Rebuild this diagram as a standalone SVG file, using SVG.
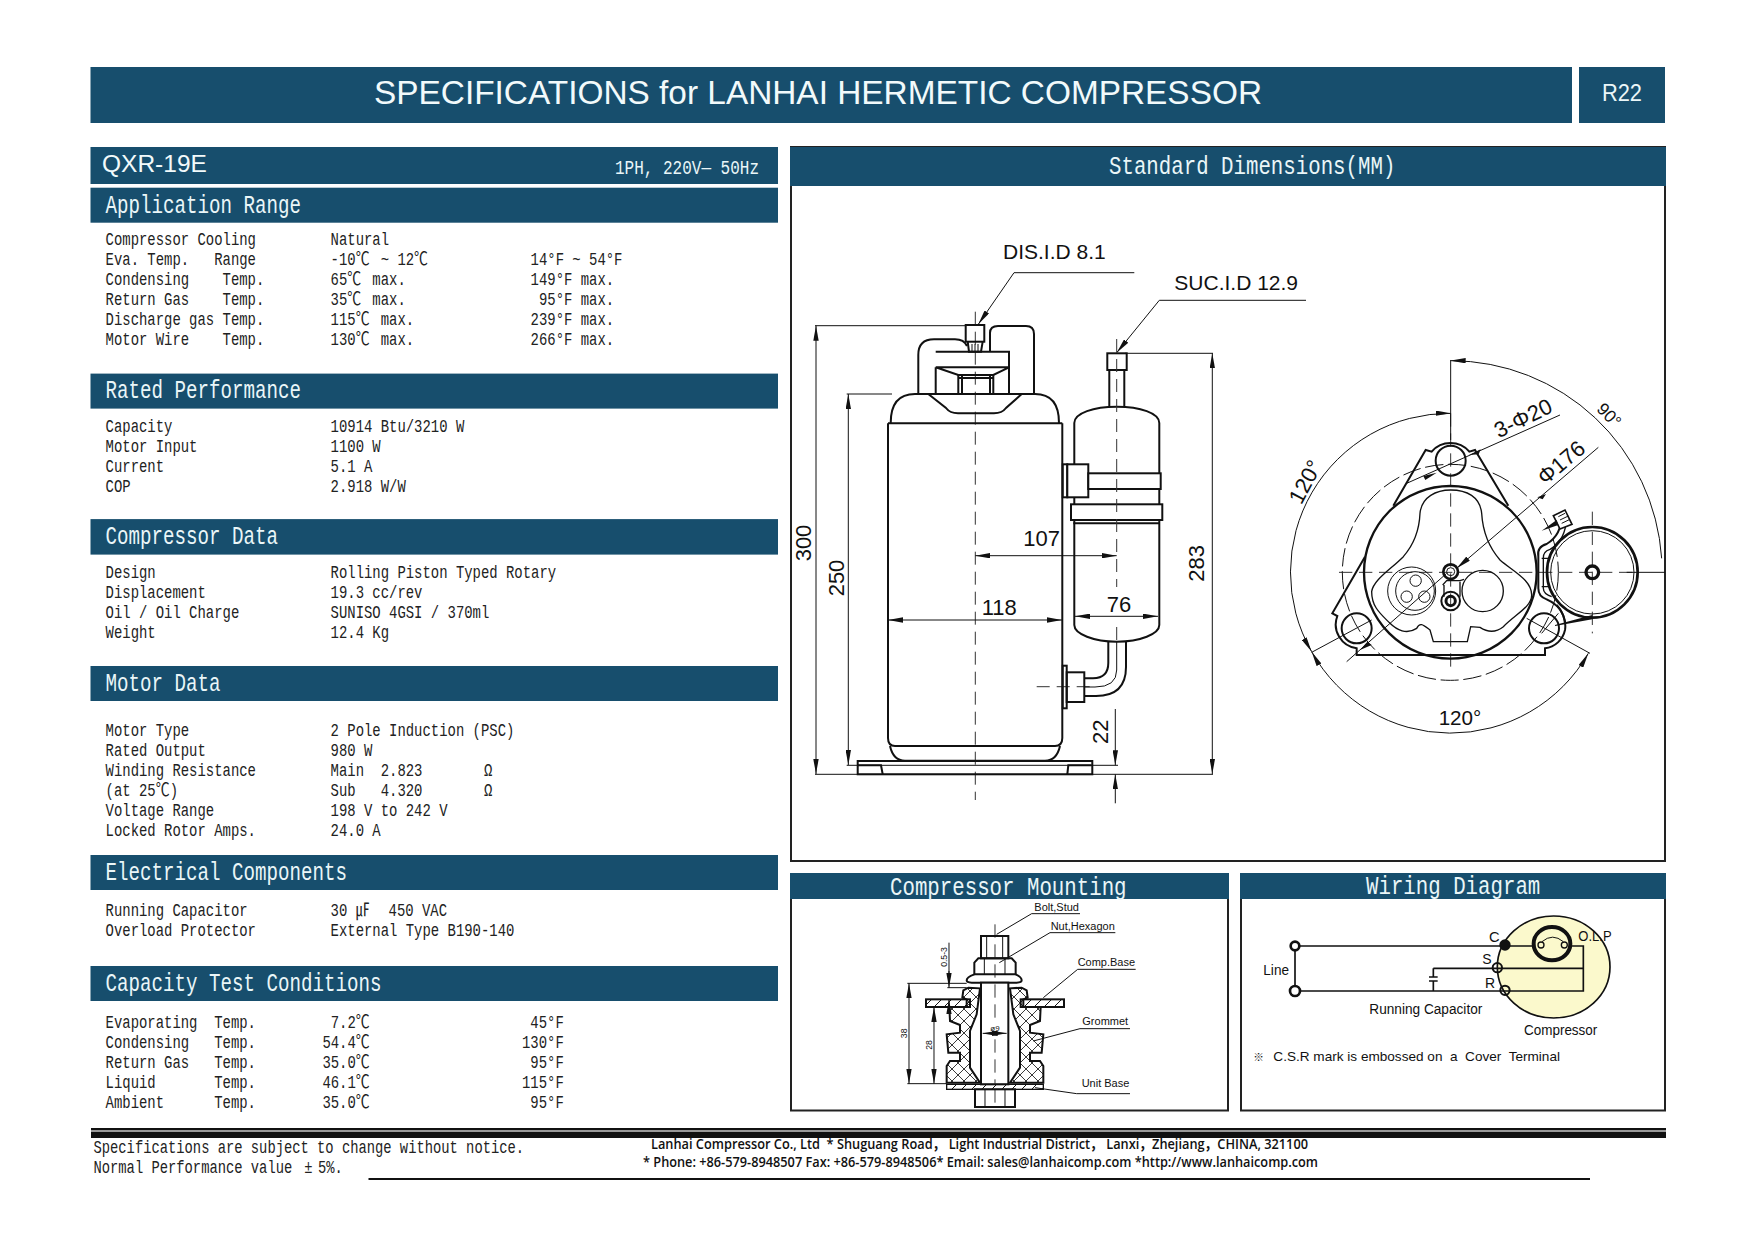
<svg xmlns="http://www.w3.org/2000/svg" width="1754" height="1240" viewBox="0 0 1754 1240">
<style>
text{white-space:pre}
.bar{fill:#174e6d}
.t{font-family:"Liberation Mono","Noto Sans CJK KR",monospace;font-size:18px;fill:#222}
.h{font-family:"Liberation Mono","Noto Sans CJK KR",monospace;font-size:25px;fill:#eaf6f8}
.s{font-family:"Liberation Sans",Arial,sans-serif;fill:#111}
.panel{fill:#fff;stroke:#222;stroke-width:2}
.o{fill:none;stroke:#111;stroke-width:2}
.th{fill:none;stroke:#111;stroke-width:1}
.c{fill:none;stroke:#333;stroke-width:1;stroke-dasharray:13 7}
.d{fill:none;stroke:#111;stroke-width:1;marker-start:url(#a);marker-end:url(#a)}
.e{fill:none;stroke:#111;stroke-width:1;marker-end:url(#a)}
.o3{fill:none;stroke:#111;stroke-width:6}
.o2{fill:none;stroke:#111;stroke-width:4}
.t3{fill:none;stroke:#111;stroke-width:3}
.c3{fill:none;stroke:#333;stroke-width:3;stroke-dasharray:40 20}
.d3{fill:none;stroke:#111;stroke-width:3;marker-start:url(#a);marker-end:url(#a)}
.e3{fill:none;stroke:#111;stroke-width:3;marker-end:url(#a)}
</style>
<defs>
<marker id="a" viewBox="0 0 15 5.4" refX="15" refY="2.7" markerWidth="15" markerHeight="5.4" orient="auto-start-reverse"><path d="M0 0L15 2.7L0 5.4z" fill="#111"/></marker>
<pattern id="cross" patternUnits="userSpaceOnUse" width="36" height="36"><path d="M0 0L36 36M36 0L0 36" stroke="#111" stroke-width="2.5"/></pattern>
<pattern id="hatch" patternUnits="userSpaceOnUse" width="30" height="30"><path d="M-5 35L35 -5M-5 5L5 -5M25 35L35 25" stroke="#111" stroke-width="3"/></pattern>
<g id="gromL"><path d="M520 358L535 350L570 352L560 430L540 480V590L570 635H470V585L480 570H510V545H475L470 490L510 485V462L480 450L478 408H530V385L517 380Z" fill="url(#cross)" stroke="#111" stroke-width="6"/></g>
</defs>
<rect width="1754" height="1240" fill="#fff"/>

<g id="header">
<rect class="bar" x="90.5" y="67" width="1481.5" height="56"/>
<rect class="bar" x="1579" y="67" width="86" height="56"/>
<text class="s" x="374" y="103.5" font-size="33" textLength="888" lengthAdjust="spacingAndGlyphs" style="fill:#f2fafb">SPECIFICATIONS for LANHAI HERMETIC COMPRESSOR</text>
<text class="s" x="1602" y="101" font-size="23" textLength="40" lengthAdjust="spacingAndGlyphs" style="fill:#eaf6f8">R22</text>
</g>

<g id="model">
<rect class="bar" x="90.5" y="147" width="687.5" height="37"/>
<text class="s" x="102" y="171.7" font-size="24.5" style="fill:#f2fafb">QXR-19E</text>
<text class="h" x="615" y="174" style="font-size:20px" textLength="144" lengthAdjust="spacingAndGlyphs">1PH, 220V— 50Hz</text>
</g>

<g id="application-range">
<rect class="bar" x="90.5" y="187.7" width="687.5" height="35"/>
<text class="h" transform="translate(105.6 212.7) scale(.767 1)">Application Range</text>
<g transform="translate(105.6 0) scale(.774 1)">
<text class="t" y="245">Compressor Cooling</text>
<text class="t" y="265">Eva. Temp.   Range</text>
<text class="t" y="285">Condensing    Temp.</text>
<text class="t" y="305">Return Gas    Temp.</text>
<text class="t" y="325">Discharge gas Temp.</text>
<text class="t" y="345">Motor Wire    Temp.</text>
</g>
<g transform="translate(330.6 0) scale(.774 1)">
<text class="t" y="245">Natural</text>
<text class="t" y="265">-10℃<tspan dx="3.6"> ~ 12℃</tspan></text>
<text class="t" y="285">65℃<tspan dx="3.6"> max.</tspan></text>
<text class="t" y="305">35℃<tspan dx="3.6"> max.</tspan></text>
<text class="t" y="325">115℃<tspan dx="3.6"> max.</tspan></text>
<text class="t" y="345">130℃<tspan dx="3.6"> max.</tspan></text>
</g>
<g transform="translate(530.6 0) scale(.774 1)">
<text class="t" y="265">14°F ~ 54°F</text>
<text class="t" y="285">149°F max.</text>
<text class="t" y="305"> 95°F max.</text>
<text class="t" y="325">239°F max.</text>
<text class="t" y="345">266°F max.</text>
</g>
</g>

<g id="rated-performance" transform="translate(0 .6)">
<rect class="bar" x="90.5" y="373" width="687.5" height="35"/>
<text class="h" transform="translate(105.6 397.5) scale(.767 1)">Rated Performance</text>
<g transform="translate(105.6 0) scale(.774 1)">
<text class="t" y="431">Capacity</text>
<text class="t" y="451">Motor Input</text>
<text class="t" y="471">Current</text>
<text class="t" y="491">COP</text>
</g>
<g transform="translate(330.6 0) scale(.774 1)">
<text class="t" y="431">10914 Btu/3210 W</text>
<text class="t" y="451">1100 W</text>
<text class="t" y="471">5.1 A</text>
<text class="t" y="491">2.918 W/W</text>
</g>
</g>

<g id="compressor-data" transform="translate(0 .6)">
<rect class="bar" x="90.5" y="518.5" width="687.5" height="35.5"/>
<text class="h" transform="translate(105.6 543) scale(.767 1)">Compressor Data</text>
<g transform="translate(105.6 0) scale(.774 1)">
<text class="t" y="577">Design</text>
<text class="t" y="597">Displacement</text>
<text class="t" y="617">Oil / Oil Charge</text>
<text class="t" y="637">Weight</text>
</g>
<g transform="translate(330.6 0) scale(.774 1)">
<text class="t" y="577">Rolling Piston Typed Rotary</text>
<text class="t" y="597">19.3 cc/rev</text>
<text class="t" y="617">SUNISO 4GSI / 370ml</text>
<text class="t" y="637">12.4 Kg</text>
</g>
</g>

<g id="motor-data" transform="translate(0 1)">
<rect class="bar" x="90.5" y="665" width="687.5" height="35"/>
<text class="h" transform="translate(105.6 689.5) scale(.767 1)">Motor Data</text>
<g transform="translate(105.6 0) scale(.774 1)">
<text class="t" y="735">Motor Type</text>
<text class="t" y="755">Rated Output</text>
<text class="t" y="775">Winding Resistance</text>
<text class="t" y="795">(at 25℃)</text>
<text class="t" y="815">Voltage Range</text>
<text class="t" y="835">Locked Rotor Amps.</text>
</g>
<g transform="translate(330.6 0) scale(.774 1)">
<text class="t" y="735">2 Pole Induction (PSC)</text>
<text class="t" y="755">980 W</text>
<text class="t" y="775">Main  2.823</text>
<text class="t" y="795">Sub   4.320</text>
<text class="t" y="815">198 V to 242 V</text>
<text class="t" y="835">24.0 A</text>
</g>
<g transform="translate(484 0) scale(.774 1)">
<text class="t" y="775">Ω</text>
<text class="t" y="795">Ω</text>
</g>
</g>

<g id="electrical-components" transform="translate(0 1)">
<rect class="bar" x="90.5" y="854" width="687.5" height="35"/>
<text class="h" transform="translate(105.6 878.5) scale(.767 1)">Electrical Components</text>
<g transform="translate(105.6 0) scale(.774 1)">
<text class="t" y="915">Running Capacitor</text>
<text class="t" y="935">Overload Protector</text>
</g>
<g transform="translate(330.6 0) scale(.774 1)">
<text class="t" y="915">30 ㎌<tspan dx="3">  450 VAC</tspan></text>
<text class="t" y="935">External Type B190-140</text>
</g>
</g>

<g id="capacity-test" transform="translate(0 1)">
<rect class="bar" x="90.5" y="965" width="687.5" height="35"/>
<text class="h" transform="translate(105.6 989.5) scale(.767 1)">Capacity Test Conditions</text>
<g transform="translate(105.6 0) scale(.774 1)">
<text class="t" y="1027">Evaporating  Temp.</text>
<text class="t" y="1047">Condensing   Temp.</text>
<text class="t" y="1067">Return Gas   Temp.</text>
<text class="t" y="1087">Liquid       Temp.</text>
<text class="t" y="1107">Ambient      Temp.</text>
</g>
<g transform="translate(322.4 0) scale(.774 1)">
<text class="t" y="1027"> 7.2℃</text>
<text class="t" y="1047">54.4℃</text>
<text class="t" y="1067">35.0℃</text>
<text class="t" y="1087">46.1℃</text>
<text class="t" y="1107">35.0℃</text>
</g>
<g transform="translate(522 0) scale(.774 1)">
<text class="t" y="1027"> 45°F</text>
<text class="t" y="1047">130°F</text>
<text class="t" y="1067"> 95°F</text>
<text class="t" y="1087">115°F</text>
<text class="t" y="1107"> 95°F</text>
</g>
</g>

<g id="dimensions-panel">
<rect class="panel" x="791" y="147" width="874" height="714"/>
<rect class="bar" x="790" y="147" width="876" height="39"/>
<text class="h" transform="translate(1109 173.5) scale(.83 1)">Standard Dimensions(MM)</text>
</g>

<g id="side-view">
<path class="c" d="M975.3 311.7V800M1036.7 686.7H1090"/>
<!-- main body -->
<path class="o" d="M888 423.3H1062.3M888 423.3V738Q888 746 895 746H1055Q1062.3 746 1062.3 738V423.3"/>
<path class="o" d="M890.7 423C890.7 405 898 394 915 394H1035C1052 394 1059 405 1059 423"/>
<path class="o" d="M928.3 394L946 408Q950 413.3 958 413.3H994Q1002 413.3 1006 408L1021.7 394"/>
<path class="o" d="M890 746C892 755 897 760.7 905 760.7H1045C1053 760.7 1058 755 1060 746"/>
<!-- base -->
<rect class="o" x="857.7" y="761" width="234.6" height="13.3"/>
<path class="o" d="M857.7 765.3H881L882.7 774.3M1067.3 774.3L1068.3 765.3H1091.7"/>
<!-- discharge -->
<path class="o" d="M918.3 394V355Q918.3 339.3 934 339.3H955Q964 339.3 967 346"/>
<path class="o" d="M990 351.7V333Q990 326 998 326H1026Q1034 326 1034 334V394"/>
<path class="o" d="M935.7 351.7H1009V394M935.7 367.3H1009M935.7 367.3V394M935.7 367.3L958.3 375H993.3L1009 367.3"/>
<path class="o" d="M958.3 375V394M962 375V394M990 375V394M993.3 375V394M958.3 378H993.3"/>
<rect class="o" x="965.7" y="325" width="18.6" height="16.7" fill="#fff"/>
<path class="o" d="M967.7 341.7L969 351.7H981L982.7 341.7"/>
<path class="th" d="M972 344V351M975 344V351M978 344V351"/>
<!-- accumulator -->
<rect class="o" x="1107.3" y="353.3" width="19.4" height="16.7"/>
<path class="o" d="M1109.3 370V406.7M1124.3 370V406.7"/>
<path class="o" d="M1074.3 625V423C1074.3 413 1094 406.7 1116.7 406.7C1140 406.7 1159.3 413 1159.3 423V625C1159.3 634 1140 641.7 1116.7 641.7C1094 641.7 1074.3 634 1074.3 625Z"/>
<rect class="o" x="1062.7" y="464.3" width="4.6" height="33"/>
<rect x="1067.3" y="464.3" width="21" height="33" fill="#fff" stroke="#111" stroke-width="2"/>
<rect x="1088.3" y="473.3" width="72.4" height="15.7" fill="#fff" stroke="#111" stroke-width="2"/>
<rect x="1071" y="504.3" width="91.3" height="15.7" fill="#fff" stroke="#111" stroke-width="2"/>
<path class="o" d="M1073.3 523.3H1160"/>
<path class="c" d="M1116.7 339V587M1116.7 627V642"/>
<!-- outlet -->
<path class="o" d="M1108.3 642V663Q1108.3 678 1093 678.3H1085M1126 642V667Q1126 696 1096 696H1085"/>
<path class="th" d="M1116.7 642V670Q1116.7 687 1095 687H1085"/>
<rect class="o" x="1062.7" y="665.7" width="4" height="42.6"/>
<rect class="o" x="1066.7" y="672.3" width="17.6" height="29.7"/>
<!-- dims -->
<path class="th" d="M815 325.7H965M815 774.3H1213M846.7 394H892M846.7 765.3H1118M1125 353.3H1213"/>
<path class="d" d="M816 325.7V774"/>
<path class="d" d="M848.3 394V765"/>
<path class="d" d="M1212.3 353.3V774"/>
<path class="d" d="M975.3 555.7H1116.7"/>
<path class="d" d="M888 620H1062"/>
<path class="d" d="M1075 616.3H1158"/>
<path class="e" d="M1115.3 709V765.3"/>
<path class="e" d="M1115.3 803.3V774.3"/>
<path class="e" d="M1134.3 272.7H1014L978.3 324.3"/>
<path class="e" d="M1306 300.3H1159.3L1116.7 352.7"/>
<text class="s" font-size="21" x="1003" y="259">DIS.I.D 8.1</text>
<text class="s" font-size="21" x="1174.3" y="290">SUC.I.D 12.9</text>
<text class="s" font-size="22" x="1041.7" y="546" text-anchor="middle">107</text>
<text class="s" font-size="22" x="999.3" y="615" text-anchor="middle">118</text>
<text class="s" font-size="22" x="1119" y="612" text-anchor="middle">76</text>
<text class="s" font-size="22" text-anchor="middle" transform="translate(811 543) rotate(-90)">300</text>
<text class="s" font-size="22" text-anchor="middle" transform="translate(843.5 578) rotate(-90)">250</text>
<text class="s" font-size="22" text-anchor="middle" transform="translate(1203.5 563.3) rotate(-90)">283</text>
<text class="s" font-size="22" text-anchor="middle" transform="translate(1107.5 731.7) rotate(-90)">22</text>
</g>

<g id="top-view" transform="translate(1260 340) scale(.33333)">
<path class="c3" d="M572 220V995M237 697H1120"/>
<path class="t3" d="M572 60V300M1100 697H1215"/>
<path class="c3" d="M997 515V880"/>
<circle class="t3" cx="571" cy="697" r="324" stroke-dasharray="55 14"/>
<path class="o3" d="M400 497L497 330L515 335A75 75 0 0 1 628 335L645 330L745 497"/>
<path class="o3" d="M315 650L217 820L232 828A72 72 0 0 0 290 925V945H855V925A70 70 0 0 0 915 870C920 840 905 810 890 795"/>
<circle class="o3" cx="571" cy="697" r="259" style="stroke-width:7"/>
<circle class="o3" cx="572" cy="362" r="45"/>
<circle class="o3" cx="290" cy="865" r="45"/>
<circle class="o3" cx="852" cy="865" r="45"/>
<path class="o2" d="M480 520C485 470 530 450 572 450C620 450 660 470 665 520C668 570 685 620 720 660C760 695 815 720 815 765C815 800 770 820 730 860C705 880 680 875 660 862L632 860L622 905H520L510 870C490 855 480 845 470 865C440 885 410 870 390 850C360 820 335 800 335 755C340 720 390 690 430 650C465 610 478 570 480 520Z"/>
<circle class="t3" cx="455" cy="753" r="72"/>
<circle class="t3" cx="465" cy="753" r="58"/>
<circle class="t3" cx="467" cy="722" r="17"/>
<circle class="t3" cx="440" cy="770" r="17"/>
<circle class="t3" cx="493" cy="770" r="17"/>
<circle class="o2" cx="668" cy="753" r="62"/>
<path class="o2" d="M548 735L560 722H600L612 718M552 735V770M600 725V770"/>
<circle class="o3" cx="572" cy="695" r="22" style="stroke-width:8"/>
<circle class="t3" cx="572" cy="695" r="12"/>
<circle class="o3" cx="572" cy="783" r="28"/>
<circle class="o3" cx="572" cy="783" r="14" style="stroke-width:9"/>
<!-- protector -->
<circle cx="997" cy="697" r="136" fill="none" stroke="#111" stroke-width="8"/>
<circle class="t3" cx="997" cy="697" r="125"/>
<circle cx="997" cy="697" r="19" fill="none" stroke="#111" stroke-width="10"/>
<path class="o3" d="M905 525Q905 585 860 612Q830 620 835 650V745Q835 770 860 778Q910 800 915 850"/>
<path class="o2" d="M920 530Q918 600 870 628Q848 635 850 655V745Q850 762 875 770M845 655H870M845 740H870"/>
<path d="M880 527L915 510L936 553L900 567Z" fill="#fff" stroke="#111" stroke-width="5"/>
<path class="t3" d="M895 530L915 520M900 540L925 528M905 550L930 538"/>
<path d="M845 572L890 540L895 555Z" fill="#111"/>
<path d="M885 855L997 825V838L885 858Z" fill="#111"/>
<!-- dims -->
<path class="t3" d="M900 225L440 430"/>
<path d="M627 345L662 328L656 343Z" fill="#111"/>
<path d="M530 398L490 408L496 420Z" fill="#111"/>
<path class="e3" d="M1015 322L590 685"/>
<path class="t3" d="M560 700L260 965"/>
<path d="M832 472L858 462L848 478Z" fill="#111"/>
<path d="M300 930L335 915L322 905Z" fill="#111"/>
<path class="t3" d="M155 937L335 840M800 835L990 940M845 880L895 820"/>
<path class="e3" d="M1205 655A635 635 0 0 0 572 62"/>
<path class="d3" d="M572 220A477 477 0 0 0 155 935"/>
<path class="d3" d="M155 935A477 477 0 0 0 985 940"/>
<text class="s" font-size="66" text-anchor="middle" transform="translate(799 255) rotate(-26)">3-Φ20</text>
<text class="s" font-size="66" text-anchor="middle" transform="translate(918 385) rotate(-40)">Φ176</text>
<text class="s" font-size="52" text-anchor="middle" transform="translate(1035 238) rotate(45)">90°</text>
<text class="s" font-size="66" text-anchor="middle" transform="translate(156 436) rotate(-62)">120°</text>
<text class="s" font-size="62" x="600" y="1155" text-anchor="middle">120°</text>
</g>

<g id="mounting-panel" transform="translate(0 1)">
<rect class="panel" x="791" y="873" width="437" height="236.5"/>
<rect class="bar" x="790" y="872" width="439" height="26"/>
<text class="h" transform="translate(890 893.5) scale(.83 1)">Compressor Mounting</text>
</g>
<g id="mounting" transform="translate(790 871) scale(.33333)">
<path class="c3" d="M615 160V340"/>
<rect class="o3" x="573" y="195" width="82" height="67"/>
<path class="t3" d="M590 195V262M638 195V262"/>
<path class="o3" d="M553 275L565 262H665L677 275V310H553Z"/>
<path class="t3" d="M583 262V310M645 262V310"/>
<path class="o3" d="M553 310Q530 318 530 328Q530 335 545 335H680Q695 335 695 328Q695 318 677 310"/>
<rect x="408" y="385" width="132" height="23" fill="url(#hatch)" stroke="#111" stroke-width="6"/>
<rect x="692" y="385" width="130" height="23" fill="url(#hatch)" stroke="#111" stroke-width="6"/>
<use href="#gromL"/>
<use href="#gromL" transform="translate(1230 0) scale(-1 1)"/>
<rect class="o3" x="573" y="335" width="82" height="305" style="fill:#fff"/>
<path class="c3" d="M615 340V450M615 505V640M615 655V700"/>
<rect x="470" y="640" width="290" height="15" fill="url(#hatch)" stroke="#111" stroke-width="4"/>
<rect class="o3" x="555" y="655" width="120" height="53"/>
<path class="t3" d="M585 655V708M645 655V708"/>
<path class="d3" d="M578 487H650"/>
<text class="s" font-size="24" x="615" y="480" text-anchor="middle">ø9</text>
<path class="t3" d="M352 337H530M352 638H470M427 408H478M472 350H530"/>
<path class="d3" d="M357 337V638"/>
<path class="d3" d="M432 408V638"/>
<path class="t3" d="M477 215V335"/>
<path class="e3" d="M477 300V350"/>
<path class="e3" d="M477 420V385"/>
<text class="s" font-size="26" text-anchor="middle" transform="translate(350 487) rotate(-90)">38</text>
<text class="s" font-size="26" text-anchor="middle" transform="translate(425 522) rotate(-90)">28</text>
<text class="s" font-size="26" text-anchor="middle" transform="translate(470 258) rotate(-90)">0.5-3</text>
<path class="t3" d="M870 128H725L620 190M976 185H780L628 275M1037 295H863L760 380M1020 473H870L730 510M1020 668H860L735 650"/>
<text class="s" font-size="33" x="733" y="120">Bolt,Stud</text>
<text class="s" font-size="33" x="782" y="177">Nut,Hexagon</text>
<text class="s" font-size="33" x="863" y="285">Comp.Base</text>
<text class="s" font-size="33" x="877" y="463">Grommet</text>
<text class="s" font-size="33" x="875" y="648">Unit Base</text>
</g>

<g id="wiring-panel" transform="translate(0 1)">
<rect class="panel" x="1241" y="873" width="424" height="236.5"/>
<rect class="bar" x="1240" y="872" width="426" height="26"/>
<text class="h" transform="translate(1366 893) scale(.83 1)">Wiring Diagram</text>
</g>
<g id="wiring" transform="translate(1240 871) scale(.33333)">
<ellipse cx="941" cy="288" rx="169" ry="153" fill="#fbf9cc" stroke="#111" stroke-width="5"/>
<path fill="none" stroke="#111" stroke-width="5" d="M165 225H880M995 225H1030V360H165V225M580 292H1030M580 292V318M580 330V360"/>
<path fill="none" stroke="#111" stroke-width="5" d="M567 318H593M567 330H593"/>
<ellipse cx="936" cy="218" rx="55" ry="50" fill="none" stroke="#111" stroke-width="12"/>
<circle cx="903" cy="222" r="9" fill="none" stroke="#111" stroke-width="4"/>
<circle cx="973" cy="222" r="9" fill="none" stroke="#111" stroke-width="4"/>
<path fill="none" stroke="#111" stroke-width="3" d="M906 212Q938 185 970 212"/>
<circle cx="795" cy="222" r="17" fill="#111"/>
<circle cx="772" cy="290" r="14" fill="none" stroke="#111" stroke-width="6"/>
<circle cx="795" cy="358" r="14" fill="none" stroke="#111" stroke-width="6"/>
<circle cx="165" cy="225" r="13" fill="#fff" stroke="#111" stroke-width="8"/>
<circle cx="165" cy="360" r="15" fill="#fff" stroke="#111" stroke-width="8"/>
<text class="s" font-size="42" x="70" y="312" textLength="77" lengthAdjust="spacingAndGlyphs">Line</text>
<text class="s" font-size="44" x="747" y="212">C</text>
<text class="s" font-size="42" x="727" y="280">S</text>
<text class="s" font-size="42" x="735" y="352">R</text>
<text class="s" font-size="42" x="1015" y="210" textLength="100" lengthAdjust="spacingAndGlyphs">O.L.P</text>
<text class="s" font-size="44" x="388" y="430" textLength="339" lengthAdjust="spacingAndGlyphs">Running Capacitor</text>
<text class="s" font-size="44" x="852" y="493" textLength="220" lengthAdjust="spacingAndGlyphs">Compressor</text>
<text x="40" y="570" font-size="32" font-family="'Noto Sans CJK KR',sans-serif" fill="#111">※</text>
<text class="s" font-size="38" x="100" y="570" textLength="860" lengthAdjust="spacingAndGlyphs">C.S.R mark is embossed on  a  Cover  Terminal</text>
</g>

<g id="footer" transform="translate(0 1)">
<rect x="91" y="1127" width="1575" height="2" fill="#111"/>
<rect x="91" y="1129" width="1575" height="2" fill="#999"/>
<rect x="91" y="1131" width="1575" height="6" fill="#111"/>
<g transform="translate(93.5 0) scale(.767 1)">
<text class="t" y="1152">Specifications are subject to change without notice.</text>
<text class="t" y="1172">Normal Performance value <tspan dx="5">±</tspan><tspan dx="7">5%.</tspan></text>
</g>
<text x="651" y="1148" font-size="14.5" font-weight="600" font-family="'Open Sans','Noto Sans CJK SC',sans-serif" fill="#111" textLength="657" lengthAdjust="spacingAndGlyphs">Lanhai Compressor Co., Ltd  * Shuguang Road， Light Industrial District， Lanxi，Zhejiang，CHINA, 321100</text>
<text x="643" y="1166" font-size="14.5" font-weight="600" font-family="'Open Sans','Noto Sans CJK SC',sans-serif" fill="#111" textLength="675" lengthAdjust="spacingAndGlyphs">* Phone: +86-579-8948507 Fax: +86-579-8948506* Email: sales@lanhaicomp.com *http://www.lanhaicomp.com</text>
<rect x="368.5" y="1177" width="1221.5" height="2" fill="#111"/>
</g>
</svg>
